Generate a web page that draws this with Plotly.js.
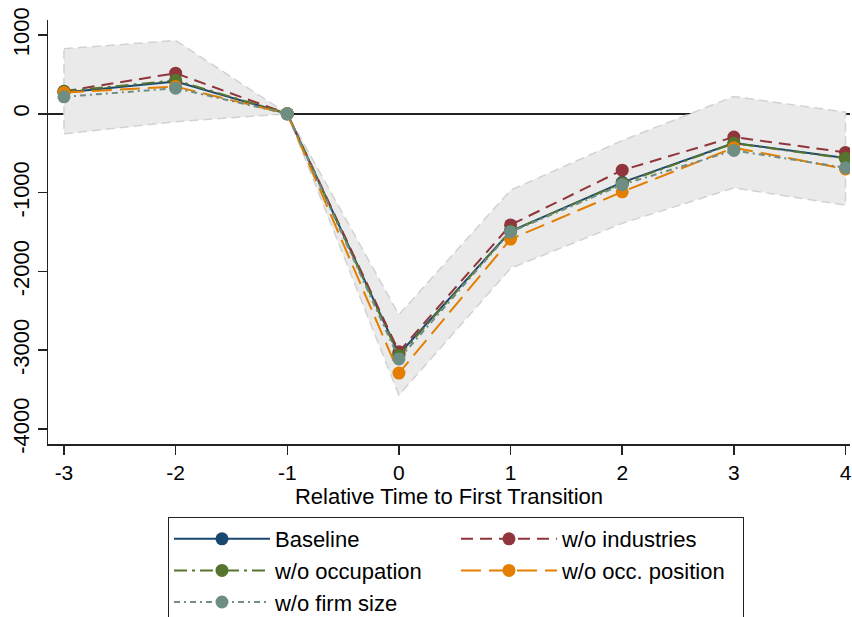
<!DOCTYPE html>
<html>
<head>
<meta charset="utf-8">
<script src="https://cdn.plot.ly/plotly-3.0.1.min.js"></script>
<style>html,body{margin:0;padding:0;background:#fff;}#chart{width:852px;height:617px;}</style>
</head>
<body>
<div id="chart"></div>
<script>
// Relative time (x)
const relTime = [-3, -2, -1, 0, 1, 2, 3, 4];
// Series values
const baseline      = [270, 410, 0, -3050, -1490, -870, -370, -560];
const woIndustries  = [285, 515, 0, -3020, -1410, -715, -295, -490];
const woOccupation  = [285, 425, 0, -3070, -1490, -880, -375, -565];
const woOccPosition = [270, 345, 0, -3290, -1590, -990, -430, -700];
const woFirmSize    = [215, 325, 0, -3110, -1500, -900, -465, -685];
// Confidence band (baseline)
const ciUpper = [825, 930, 0, -2550, -970, -340, 220, 20];
const ciLower = [-255, -100, 0, -3570, -1960, -1390, -940, -1160];
// Labels
const seriesNames = ["Baseline", "w/o industries", "w/o occupation", "w/o occ. position", "w/o firm size"];
const yTicks = [-4000, -3000, -2000, -1000, 0, 1000];
const xTicks = [-3, -2, -1, 0, 1, 2, 3, 4];

const colors = ["#1a476f", "#90353b", "#55752f", "#e37e00", "#6e8e84"];
const dashes = ["solid", "12px,7px", "13px,5px,3px,5px", "20px,8px", "6px,4px,2px,4px"];
const seriesData = [baseline, woIndustries, woOccupation, woOccPosition, woFirmSize];

const traces = [];
traces.push({
  x: relTime.concat(relTime.slice().reverse()).concat([relTime[0]]),
  y: ciUpper.concat(ciLower.slice().reverse()).concat([ciUpper[0]]),
  mode: "lines",
  fill: "toself",
  fillcolor: "#eaeaea",
  line: {color: "#d2d2d2", width: 1.5, dash: "9px,5px"},
  showlegend: false,
  hoverinfo: "skip"
});
seriesData.forEach((vals, i) => {
  traces.push({
    x: relTime,
    y: vals,
    name: seriesNames[i],
    mode: "lines+markers",
    line: {color: colors[i], width: 2, dash: dashes[i]},
    marker: {color: colors[i], size: 13}
  });
});

const font = "Liberation Sans, Arial, sans-serif";
const layout = {
  width: 852, height: 617,
  margin: {l: 48, r: 2, t: 20, b: 173, autoexpand: false},
  paper_bgcolor: "#fff", plot_bgcolor: "#fff",
  font: {family: font, size: 21, color: "#000"},
  showlegend: true,
  xaxis: {
    range: [-3.143, 4.04],
    tickvals: xTicks,
    ticktext: xTicks.map(String),
    ticks: "outside", ticklen: 9, tickwidth: 1.5, tickcolor: "#222",
    showline: true, linecolor: "#222", linewidth: 1.5,
    showgrid: false, zeroline: false,
    tickfont: {family: font, size: 21},
    title: {text: "Relative Time to First Transition", font: {family: font, size: 22}, standoff: 2}
  },
  yaxis: {
    range: [-4190, 1190],
    tickvals: yTicks,
    ticktext: yTicks.map(String),
    tickangle: -90,
    ticks: "outside", ticklen: 9, tickwidth: 1.5, tickcolor: "#222",
    showline: true, linecolor: "#222", linewidth: 1.5,
    showgrid: false,
    zeroline: true, zerolinecolor: "#222", zerolinewidth: 2,
    tickfont: {family: font, size: 22}
  },
  legend: {
    orientation: "h",
    x: 0.1496, xanchor: "left",
    y: -0.1722, yanchor: "top",
    bgcolor: "#fff", bordercolor: "#222", borderwidth: 1,
    font: {family: font, size: 22},
    entrywidth: 176, entrywidthmode: "pixels",
    itemwidth: 96,
    traceorder: "normal"
  }
};

Plotly.newPlot("chart", traces, layout, {displayModeBar: false, staticPlot: true});
</script>
</body>
</html>
